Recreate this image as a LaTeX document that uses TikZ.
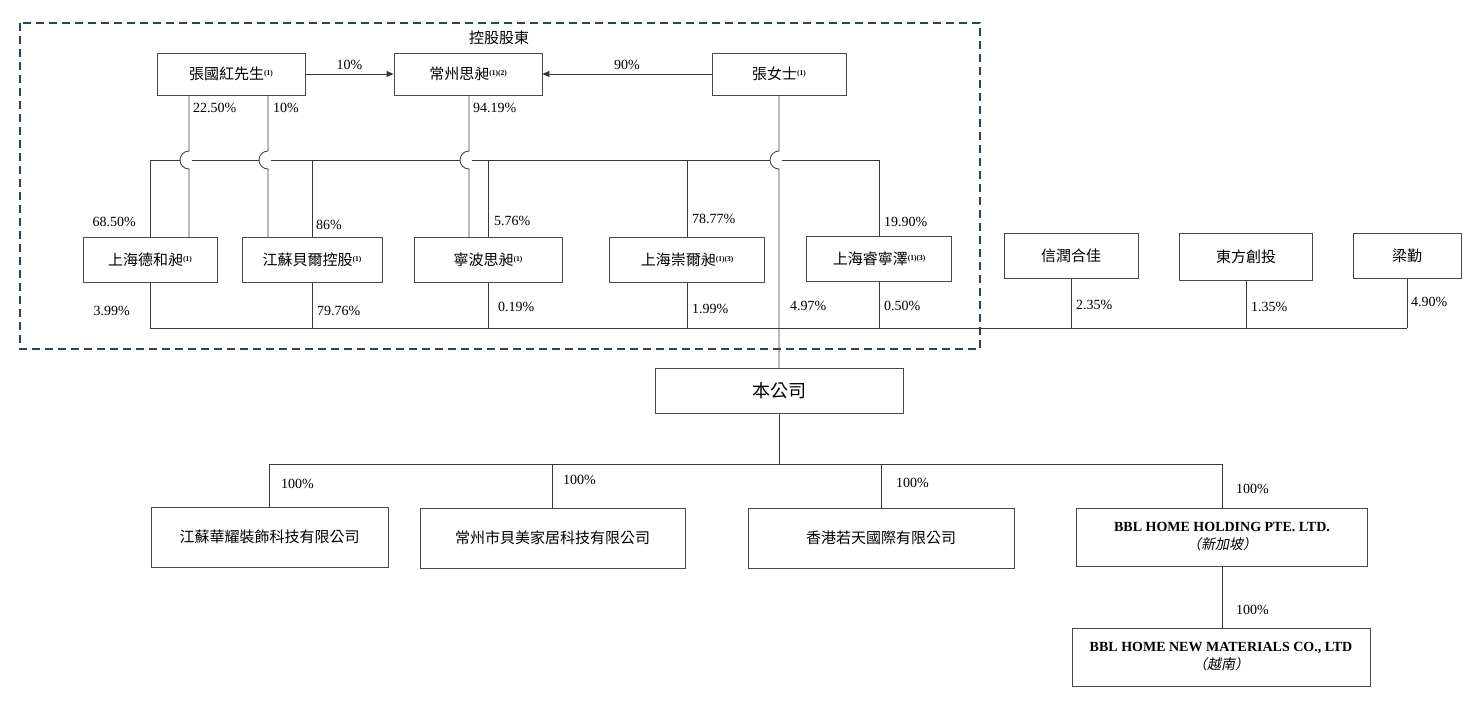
\documentclass[tikz,border=0pt]{standalone}
\usepackage{fontspec}
\setmainfont{Liberation Serif}
\newfontfamily\cjk{Noto Sans CJK TC}
\newfontfamily\cjkit[FakeSlant=0.2]{Noto Sans CJK TC}
\usepackage{tikz}
\usetikzlibrary{arrows.meta, positioning, calc}
\definecolor{linec}{RGB}{62,54,54}
\definecolor{boxc}{RGB}{78,70,70}
\definecolor{grpc}{RGB}{44,66,100}
\newcommand{\fnref}[1]{\raisebox{4pt}{\rmfamily\bfseries\fontsize{7.5}{7.5}\selectfont #1}}

\begin{document}
\begin{tikzpicture}[x=1pt, y=-1pt, every node/.style={font=\fontsize{14}{16}\selectfont}]
\tikzset{ent/.style={draw=boxc, line width=0.8pt, fill=white, minimum height=45pt, inner sep=0pt, align=center, font=\cjk\fontsize{15}{18}\selectfont},
  pct/.style={inner sep=0pt},
  ln/.style={draw=linec, line width=0.8pt}}
\useasboundingbox (0,0) rectangle (1477,702);
% controlling shareholders
\draw[grpc, line width=1.3pt, dash pattern=on 8pt off 5pt] (20,23) rectangle (980,349);
\node[font=\cjk\fontsize{15}{18}\selectfont] (grp) at (499,38) {控股股東};
\node[ent, minimum width=148pt, minimum height=42pt] (zg) at (231,74) {張國紅先生\fnref{(1)}};
\node[ent, minimum width=148pt, minimum height=42pt] (cz) at (468,74) {常州思昶\fnref{(1)(2)}};
\node[ent, minimum width=134pt, minimum height=42pt] (zn) at (779,74) {張女士\fnref{(1)}};
\node[ent, minimum width=134pt] (dh) at (150,260) {上海德和昶\fnref{(1)}};
\node[ent, minimum width=140pt] (jb) at (312,260) {江蘇貝爾控股\fnref{(1)}};
\node[ent, minimum width=148pt] (nb) at (488,260) {寧波思昶\fnref{(1)}};
\node[ent, minimum width=155pt] (ce) at (687,260) {上海崇爾昶\fnref{(1)(3)}};
\node[ent, minimum width=145pt] (rn) at (879,259) {上海睿寧澤\fnref{(1)(3)}};
% other shareholders
\node[ent, minimum width=134pt] (xr) at (1071,256) {信潤合佳};
\node[ent, minimum width=133pt, minimum height=47pt] (df) at (1246,257) {東方創投};
\node[ent, minimum width=108pt] (lq) at (1407,256) {梁勤};
% company and subsidiaries
\node[ent, minimum width=248pt, font=\cjk\fontsize{18}{20}\selectfont] (bc) at (779,391) {本公司};
\node[ent, minimum width=237pt, minimum height=60pt] (hy) at (269.5,537) {江蘇華耀裝飾科技有限公司};
\node[ent, minimum width=265pt, minimum height=60pt] (bm) at (552.5,538) {常州市貝美家居科技有限公司};
\node[ent, minimum width=266pt, minimum height=60pt] (hk) at (881,538) {香港若天國際有限公司};
\node[ent, minimum width=291pt, minimum height=58pt, font=\fontsize{14}{18}\selectfont\bfseries] (bh) at (1222,537) {BBL HOME HOLDING PTE. LTD.\\{\cjkit\mdseries （新加坡）}};
\node[ent, minimum width=298pt, minimum height=58pt, font=\fontsize{14}{18}\selectfont\bfseries] (bn) at (1221,657) {BBL HOME NEW MATERIALS CO., LTD\\{\cjkit\mdseries （越南）}};

\coordinate (tb) at (0,160);
\coordinate (bb) at (0,328);
\coordinate (sb) at (0,464);
\coordinate (h1) at (189,160);
\coordinate (h2) at (268,160);
\coordinate (h3) at (469,160);
\coordinate (h4) at (779,160);

\draw[ln, -{Triangle[length=7pt, width=6pt]}] (zg) -- node[pct, above=4pt] (a1) {10\%} (cz);
\draw[ln, -{Triangle[length=7pt, width=6pt]}] (zn) -- node[pct, above=4pt] (a2) {90\%} (cz);

% lines hopping over the bar
\draw[ln] (h1 |- zg.south) -- ([yshift=9pt]h1) arc[start angle=90, end angle=270, radius=9pt] -- (h1 |- dh.north);
\draw[ln] (h2 |- zg.south) -- ([yshift=9pt]h2) arc[start angle=90, end angle=270, radius=9pt] -- (h2 |- jb.north);
\draw[ln] (h3 |- cz.south) -- ([yshift=9pt]h3) arc[start angle=90, end angle=270, radius=9pt] -- (h3 |- nb.north);
\draw[ln] (zn.south) -- ([yshift=9pt]h4) arc[start angle=90, end angle=270, radius=9pt] -- (bc.north);
\draw[ln] (dh.north |- tb) -- ([xshift=-9pt]h1) ([xshift=3pt]h1) -- ([xshift=-9pt]h2)
  ([xshift=3pt]h2) -- ([xshift=-9pt]h3) ([xshift=3pt]h3) -- ([xshift=-9pt]h4)
  ([xshift=3pt]h4) -- (rn.north |- tb);
\foreach \n in {dh,jb,nb,ce,rn} \draw[ln] (\n.north |- tb) -- (\n.north);
\draw[ln] (dh.south |- bb) -- (lq.south |- bb);
\foreach \n in {dh,jb,nb,ce,rn,xr,df,lq} \draw[ln] (\n.south) -- (\n.south |- bb);
\draw[ln] (bc.south) -- (bc.south |- sb);
\draw[ln] (hy.north |- sb) -- (bh.north |- sb);
\foreach \n in {hy,bm,hk,bh} \draw[ln] (\n.north |- sb) -- (\n.north);
\draw[ln] (bh.south) -- (bh.south |- bn.north);

% percentages
\node[pct, anchor=west] (p1) at (193,108) {22.50\%};
\node[pct, anchor=west] (p2) at (273,108) {10\%};
\node[pct, anchor=west] (p3) at (473,108) {94.19\%};
\node[pct, anchor=east] (p4) at (136,222) {68.50\%};
\node[pct, anchor=west] (p5) at (316,225) {86\%};
\node[pct, anchor=west] (p6) at (494,221) {5.76\%};
\node[pct, anchor=west] (p7) at (692,219) {78.77\%};
\node[pct, anchor=west] (p8) at (884,222) {19.90\%};
\node[pct, anchor=east] (p9) at (130,311) {3.99\%};
\node[pct, anchor=west] (p10) at (317,311) {79.76\%};
\node[pct, anchor=west] (p11) at (498,307) {0.19\%};
\node[pct, anchor=west] (p12) at (692,309) {1.99\%};
\node[pct, anchor=west] (p13) at (790,306) {4.97\%};
\node[pct, anchor=west] (p14) at (884,306) {0.50\%};
\node[pct, anchor=west] (p15) at (1076,305) {2.35\%};
\node[pct, anchor=west] (p16) at (1251,307) {1.35\%};
\node[pct, anchor=west] (p17) at (1411,302) {4.90\%};
\node[pct, anchor=west] (s1) at (281,484) {100\%};
\node[pct, anchor=west] (s2) at (563,480) {100\%};
\node[pct, anchor=west] (s3) at (896,483) {100\%};
\node[pct, anchor=west] (s4) at (1236,489) {100\%};
\node[pct, anchor=west] (s5) at (1236,610) {100\%};
\end{tikzpicture}
\end{document}
